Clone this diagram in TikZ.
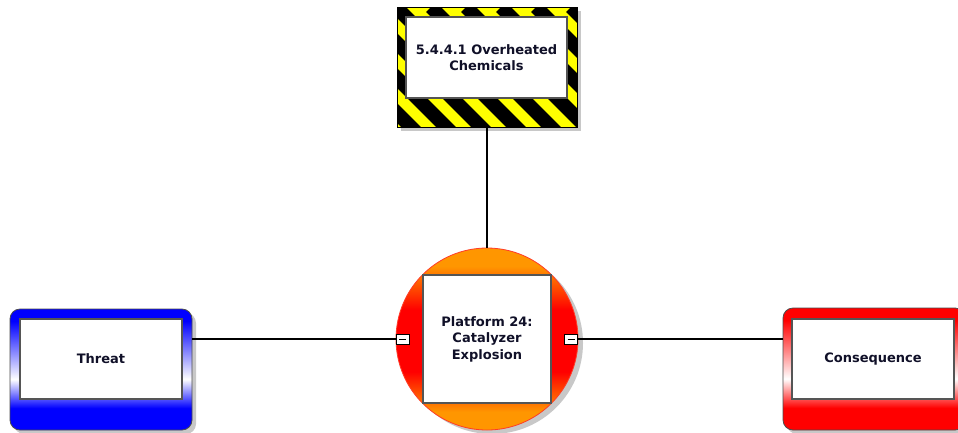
\documentclass[tikz,border=0pt]{standalone}
\usepackage{fontspec}
\setmainfont{DejaVu Sans}
\definecolor{tblue}{RGB}{0,0,255}
\definecolor{cred}{RGB}{255,0,0}
\definecolor{corange}{RGB}{255,150,0}
\definecolor{hyellow}{RGB}{255,255,0}
\definecolor{txt}{RGB}{16,16,40}
\definecolor{shadowgray}{RGB}{200,200,200}
\definecolor{inborder}{RGB}{85,85,85}
\pgfdeclareverticalshading{threatsh}{100bp}{color(0bp)=(tblue); color(34bp)=(tblue); color(46bp)=(white); color(70bp)=(tblue); color(100bp)=(tblue)}
\pgfdeclareverticalshading{conssh}{100bp}{color(0bp)=(cred); color(34bp)=(cred); color(46bp)=(white); color(70bp)=(cred); color(100bp)=(cred)}
\pgfdeclareverticalshading{circsh}{100bp}{color(0bp)=(corange); color(30bp)=(corange); color(41bp)=(cred); color(58bp)=(cred); color(70bp)=(corange); color(100bp)=(corange)}
\begin{document}
\begin{tikzpicture}[x=1pt,y=-1pt,
  lbl/.style={font=\bfseries\fontsize{13}{16.5}\selectfont, text=txt, align=center},
  inbox/.style={draw=inborder, line width=1.2pt, fill=white, inner sep=0pt, outer sep=0pt},
  outerbox/.style={draw=black!70, line width=0.8pt, inner sep=0pt, outer sep=0pt, minimum width=182pt, minimum height=121pt, rounded corners=10pt},
  shade/.style={fill=shadowgray},
  conn/.style={draw=black, line width=1.6pt},
  minusbox/.style={draw=black, fill=white, line width=0.8pt, minimum width=13pt, minimum height=10pt, inner sep=0pt, outer sep=0pt}
]
\clip (0,0) rectangle (958,432);
\fill[white] (0,0) rectangle (958,432);

% ---------- hazard ----------
\fill[shade] (401,11) rectangle (581,131);
\node[fill=hyellow, minimum width=180pt, minimum height=120pt, inner sep=0pt, outer sep=0pt] (hazard) at (487,67) {};
\begin{scope}
  \clip (hazard.south west) rectangle (hazard.north east);
  \foreach \i in {-6,...,5} \draw[line width=14pt] (431+35*\i,7) -- ++(160,160);
\end{scope}
\draw[black, line width=1pt] (hazard.south west) rectangle (hazard.north east);
\node[inbox, minimum width=161pt, minimum height=81pt, lbl] (hazin) at (486.5,57.5) {5.4.4.1 Overheated\\Chemicals};

% ---------- central event ----------
\fill[shade] (492,343) circle (91);
\node[circle, shading=circsh, draw={rgb,255:red,255;green,60;blue,40}, line width=0.8pt, minimum size=182pt, inner sep=0pt, outer sep=0pt] (circ) at (487,339) {};
\node[inbox, minimum width=128pt, minimum height=128pt, lbl] (plat) at (487,339) {Platform 24:\\Catalyzer\\Explosion};

% ---------- threat ----------
\fill[shade, rounded corners=10pt] (14,313) rectangle (196,434);
\node[outerbox, shading=threatsh] (threat) at (101,369.5) {};
\node[inbox, minimum width=162pt, minimum height=80pt, lbl] (threatin) at (101,359) {Threat};

% ---------- consequence ----------
\fill[shade, rounded corners=10pt] (787,312) rectangle (969,434);
\node[outerbox, shading=conssh, minimum height=122pt] (cons) at (874,369) {};
\node[inbox, minimum width=162pt, minimum height=80pt, lbl] (consin) at (873,359) {Consequence};

% ---------- minus boxes ----------
\node[minusbox] (lminus) at (402.5,339) {};
\node[minusbox] (rminus) at (571,339) {};

% ---------- connectors ----------
\draw[conn] (hazard.south) -- (circ.north);
\draw[conn] (lminus.west) -- (lminus.west -| threat.east);
\draw[conn] (rminus.east) -- (rminus.east -| cons.west);

\node[minusbox] at (lminus) {};
\node[minusbox] at (rminus) {};
\draw[black, line width=0.9pt] ([xshift=-3.5pt]lminus.center) -- ([xshift=3.5pt]lminus.center);
\draw[black, line width=0.9pt] ([xshift=-3.5pt]rminus.center) -- ([xshift=3.5pt]rminus.center);
\end{tikzpicture}
\end{document}
